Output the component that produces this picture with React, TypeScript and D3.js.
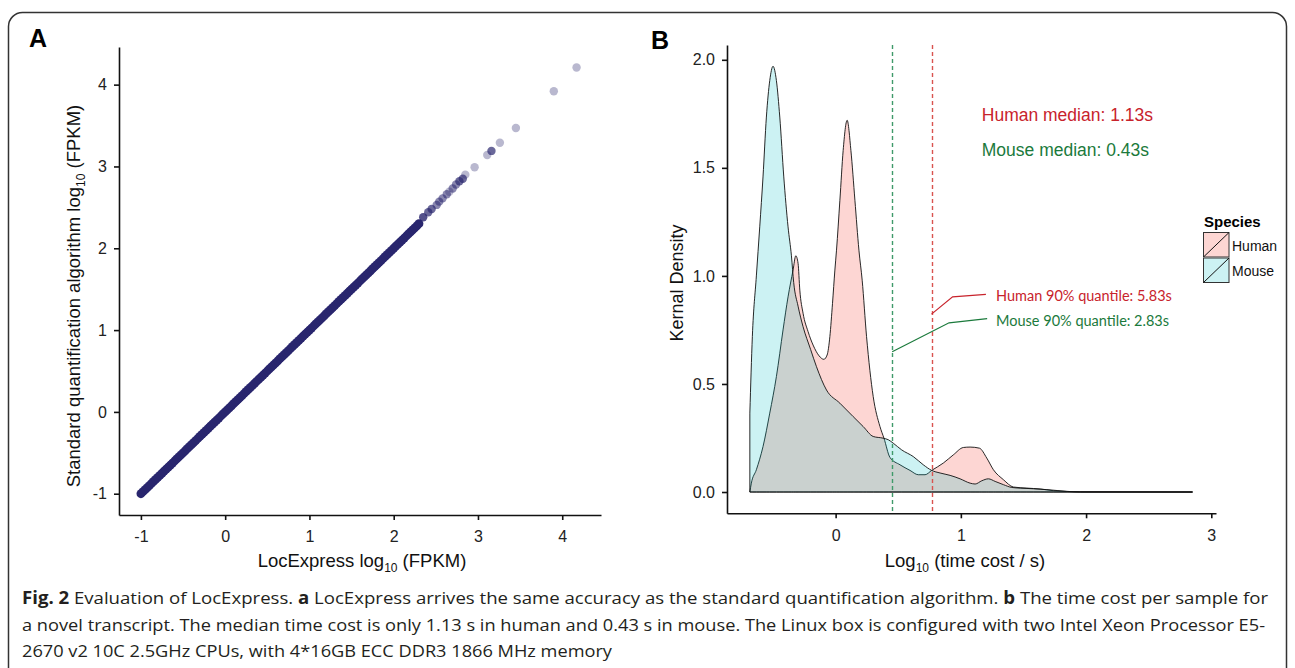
import React, { useEffect, useRef } from 'react';
import * as d3 from 'd3';

const W = 1295;
const H = 668;

// Panel A: LocExpress vs standard algorithm, log10 (FPKM).
// The bulk of transcripts sit on the diagonal (both methods agree).
const denseFpkm = [
  -1.0, -0.975, -0.95, -0.925, -0.9, -0.875, -0.85, -0.825, -0.8, -0.775, -0.75, -0.725, -0.7,
  -0.675, -0.65, -0.625, -0.6, -0.575, -0.55, -0.525, -0.5, -0.475, -0.45, -0.425, -0.4, -0.375,
  -0.35, -0.325, -0.3, -0.275, -0.25, -0.225, -0.2, -0.175, -0.15, -0.125, -0.1, -0.075, -0.05,
  -0.025, 0.0, 0.025, 0.05, 0.075, 0.1, 0.125, 0.15, 0.175, 0.2, 0.225, 0.25, 0.275, 0.3, 0.325,
  0.35, 0.375, 0.4, 0.425, 0.45, 0.475, 0.5, 0.525, 0.55, 0.575, 0.6, 0.625, 0.65, 0.675, 0.7,
  0.725, 0.75, 0.775, 0.8, 0.825, 0.85, 0.875, 0.9, 0.925, 0.95, 0.975, 1.0, 1.025, 1.05, 1.075,
  1.1, 1.125, 1.15, 1.175, 1.2, 1.225, 1.25, 1.275, 1.3, 1.325, 1.35, 1.375, 1.4, 1.425, 1.45,
  1.475, 1.5, 1.525, 1.55, 1.575, 1.6, 1.625, 1.65, 1.675, 1.7, 1.725, 1.75, 1.775, 1.8, 1.825,
  1.85, 1.875, 1.9, 1.925, 1.95, 1.975, 2.0, 2.025, 2.05, 2.075, 2.1, 2.125, 2.15, 2.175, 2.2,
  2.225, 2.25, 2.275, 2.3,
];
// sparse high-expression tail
const tailLocExpress = [2.35, 2.41, 2.45, 2.51, 2.54, 2.58, 2.63, 2.66, 2.7, 2.74, 2.78, 2.82, 2.85, 2.96, 3.11, 3.16, 3.26, 3.45, 3.9, 4.17];
const tailStandard = [2.38, 2.44, 2.48, 2.53, 2.57, 2.61, 2.66, 2.69, 2.73, 2.78, 2.82, 2.85, 2.9, 2.99, 3.14, 3.19, 3.29, 3.47, 3.92, 4.21];
const tailOverlap = [4, 3, 3, 2, 2, 2, 2, 1, 2, 2, 3, 3, 1, 1, 1, 3, 1, 1, 1, 1];

const ticksA = [-1, 0, 1, 2, 3, 4];

// Panel B: kernel density of log10(time cost / s)
const species = ['Human', 'Mouse'];
const humanLogTime = [
  -0.685, -0.673, -0.633, -0.58, -0.526, -0.473, -0.42, -0.38, -0.34, -0.318, -0.3, -0.286, -0.26,
  -0.22, -0.18, -0.132, -0.094, -0.068, -0.046, -0.025, -0.006, 0.007, 0.034, 0.06, 0.092, 0.122,
  0.154, 0.186, 0.212, 0.247, 0.3, 0.354, 0.386, 0.434, 0.514, 0.594, 0.66, 0.714, 0.767, 0.86,
  0.94, 1.02, 1.074, 1.148, 1.207, 1.26, 1.34, 1.42, 1.527, 1.634, 1.74, 1.95, 2.85,
];
const humanDensity = [
  0, 0.041, 0.103, 0.21, 0.365, 0.534, 0.75, 0.903, 1.027, 1.093, 1.058, 0.934, 0.827,
  0.742, 0.68, 0.63, 0.614, 0.634, 0.719, 0.873, 1.027, 1.119, 1.35, 1.58, 1.72, 1.58,
  1.35, 1.119, 0.98, 0.719, 0.442, 0.303, 0.249, 0.16, 0.126, 0.1, 0.08, 0.08, 0.1, 0.134,
  0.172, 0.206, 0.208, 0.203, 0.157, 0.103, 0.057, 0.023, 0.018, 0.014, 0.006, 0.001, 0,
];
const mouseLogTime = [
  -0.685, -0.665, -0.633, -0.606, -0.58, -0.553, -0.526, -0.5, -0.473, -0.446, -0.414, -0.38,
  -0.353, -0.335, -0.3, -0.26, -0.2, -0.153, -0.073, 0.034, 0.14, 0.22, 0.3, 0.38, 0.42, 0.46,
  0.527, 0.62, 0.7, 0.767, 0.834, 0.914, 0.994, 1.074, 1.114, 1.167, 1.22, 1.274, 1.34, 1.407,
  1.474, 1.58, 1.687, 1.85, 1.954, 2.85,
];
const mouseDensity = [
  0.365, 0.719, 1.0, 1.227, 1.458, 1.735, 1.904, 1.97, 1.904, 1.735, 1.458, 1.227,
  1.093, 0.97, 0.86, 0.765, 0.66, 0.58, 0.472, 0.411, 0.349, 0.303, 0.257, 0.249, 0.242, 0.226,
  0.195, 0.164, 0.126, 0.1, 0.088, 0.077, 0.061, 0.041, 0.037, 0.052, 0.061, 0.049, 0.034, 0.021,
  0.018, 0.015, 0.011, 0.003, 0, 0,
];
const medianSeconds = [1.13, 0.43];
const quantileSeconds = [5.83, 2.83];
const ticksBx = [0, 1, 2, 3];
const ticksBy = [0, 0.5, 1, 1.5, 2];

const captionLines = [
  [
    ['Fig. 2', true], [' Evaluation of LocExpress. ', false], ['a', true],
    [' LocExpress arrives the same accuracy as the standard quantification algorithm. ', false],
    ['b', true], [' The time cost per sample for', false],
  ],
  [['a novel transcript. The median time cost is only 1.13 s in human and 0.43 s in mouse. The Linux box is configured with two Intel Xeon Processor E5-', false]],
  [['2670 v2 10C 2.5GHz CPUs, with 4*16GB ECC DDR3 1866 MHz memory', false]],
];
const captionWidths = [1246, 1243, 590];

const FONT = "'Liberation Sans', Arial, Helvetica, sans-serif";
const fills = { Human: '#F8766D', Mouse: '#00BFC4' };
const fillAlpha = { Human: 0.3, Mouse: 0.2 };
const textColors = { Human: '#c8232c', Mouse: '#1b7a3c' };
const dashColors = { Human: '#d9534f', Mouse: '#3f9a6a' };

function App() {
  const svgRef = useRef(null);

  useEffect(() => {
    const svg = d3.select(svgRef.current);
    svg.selectAll('*').remove();

    // frame
    svg.append('rect')
      .attr('x', 8.5).attr('y', 12.5).attr('width', 1278).attr('height', 720)
      .attr('rx', 14).attr('fill', 'none').attr('stroke', '#333').attr('stroke-width', 1.5);

    // ---------- Panel A ----------
    const xA = d3.scaleLinear().domain([-1.26, 4.46]).range([119, 601]);
    const yA = d3.scaleLinear().domain([-1.26, 4.46]).range([515, 47]);

    const gA = svg.append('g');

    const opac = (n) => 1 - Math.pow(1 - 0.33, n);
    const dotColor = '#29266e';

    gA.selectAll('.dense')
      .data(denseFpkm)
      .enter()
      .append('circle')
      .attr('cx', (d) => xA(d))
      .attr('cy', (d) => yA(d))
      .attr('r', 4.4)
      .attr('fill', dotColor);

    gA.selectAll('.tail')
      .data(tailLocExpress)
      .enter()
      .append('circle')
      .attr('cx', (d) => xA(d))
      .attr('cy', (d, i) => yA(tailStandard[i]))
      .attr('r', 4.2)
      .attr('fill', dotColor)
      .attr('opacity', (d, i) => opac(tailOverlap[i]));

    const styleAxis = (g) => {
      g.select('.domain').attr('stroke', '#111').attr('stroke-width', 1.6);
      g.selectAll('.tick line').attr('stroke', '#111').attr('stroke-width', 1.6);
      g.selectAll('.tick text').attr('fill', '#222');
      g.attr('font-size', 16).attr('font-family', FONT);
    };
    const plain = (d) => String(d);

    gA.append('g')
      .attr('transform', `translate(0, 515)`)
      .call(d3.axisBottom(xA).tickValues(ticksA).tickSize(5).tickSizeOuter(0).tickPadding(11).tickFormat(plain))
      .call(styleAxis);

    gA.append('g')
      .attr('transform', `translate(119, 0)`)
      .call(d3.axisLeft(yA).tickValues(ticksA).tickSize(5).tickSizeOuter(0).tickPadding(7).tickFormat(plain))
      .call(styleAxis);

    const xTitleA = gA.append('text')
      .attr('x', 362).attr('y', 567)
      .attr('text-anchor', 'middle')
      .attr('font-family', FONT).attr('font-size', 18.5).attr('fill', '#111');
    xTitleA.append('tspan').text('LocExpress log');
    xTitleA.append('tspan').attr('font-size', 12).attr('dy', 5).text('10');
    xTitleA.append('tspan').attr('dy', -5).text(' (FPKM)');

    const yTitleA = gA.append('text')
      .attr('transform', 'translate(80, 296) rotate(-90)')
      .attr('text-anchor', 'middle')
      .attr('font-family', FONT).attr('font-size', 18.5).attr('fill', '#111');
    yTitleA.append('tspan').text('Standard quantification algorithm log');
    yTitleA.append('tspan').attr('font-size', 12).attr('dy', 5).text('10');
    yTitleA.append('tspan').attr('dy', -5).text(' (FPKM)');

    svg.append('text').attr('x', 29).attr('y', 47)
      .attr('font-family', FONT).attr('font-weight', 'bold').attr('font-size', 25).text('A');

    // ---------- Panel B ----------
    const xB = d3.scaleLinear().domain([-0.8675, 3.0375]).range([727, 1216]);
    const yB = d3.scaleLinear().domain([-0.0985, 2.0685]).range([513.3, 45]);
    const gB = svg.append('g');

    const area = d3.area()
      .x((d) => xB(d[0]))
      .y0(yB(0))
      .y1((d) => yB(d[1]))
      .curve(d3.curveMonotoneX);

    const series = {
      Human: humanLogTime.map((x, i) => [x, humanDensity[i]]),
      Mouse: mouseLogTime.map((x, i) => [x, mouseDensity[i]]),
    };

    species.forEach((s) => {
      gB.append('path')
        .attr('d', area(series[s]) + 'Z')
        .attr('fill', fills[s])
        .attr('fill-opacity', fillAlpha[s])
        .attr('stroke', '#111')
        .attr('stroke-width', 0.9)
        .attr('stroke-linejoin', 'round');
    });

    // 90% quantile dashed lines
    species.forEach((s, i) => {
      const q = Math.round(xB(Math.log10(quantileSeconds[i]))) + 0.5;
      gB.append('line')
        .attr('x1', q).attr('x2', q)
        .attr('y1', 45).attr('y2', 513)
        .attr('stroke', dashColors[s])
        .attr('stroke-width', 1.4)
        .attr('stroke-dasharray', '4,3');
    });

    // median labels
    const medianY = [1.716, 1.555];
    species.forEach((s, i) => {
      gB.append('text')
        .attr('x', xB(1.167)).attr('y', yB(medianY[i]))
        .attr('font-family', FONT).attr('font-size', 17.5)
        .attr('fill', textColors[s])
        .text(`${s} median: ${medianSeconds[i].toFixed(2)}s`);
    });

    // quantile leaders and labels
    const leaders = [
      [[Math.log10(quantileSeconds[0]), 0.823], [0.934, 0.903], [1.2, 0.915]],
      [[Math.log10(quantileSeconds[1]), 0.649], [0.906, 0.783], [1.21, 0.802]],
    ];
    const quantLabelY = [0.884, 0.769];
    species.forEach((s, i) => {
      gB.append('path')
        .attr('d', d3.line().x((d) => xB(d[0])).y((d) => yB(d[1]))(leaders[i]))
        .attr('fill', 'none')
        .attr('stroke', textColors[s])
        .attr('stroke-width', 1.2);
      gB.append('text')
        .attr('x', xB(1.281)).attr('y', yB(quantLabelY[i]))
        .attr('font-family', "Lato, 'Open Sans', sans-serif").attr('font-size', 14.5)
        .attr('fill', textColors[s])
        .text(`${s} 90% quantile: ${quantileSeconds[i].toFixed(2)}s`);
    });

    gB.append('g')
      .attr('transform', `translate(0, 513.3)`)
      .call(d3.axisBottom(xB).tickValues(ticksBx).tickSize(5).tickSizeOuter(0).tickPadding(11).tickFormat(plain))
      .call(styleAxis);

    gB.append('g')
      .attr('transform', `translate(727, 0)`)
      .call(d3.axisLeft(yB).tickValues(ticksBy).tickSize(5).tickSizeOuter(0).tickPadding(7).tickFormat(d3.format('.1f')))
      .call(styleAxis);

    const xTitleB = gB.append('text')
      .attr('x', 965).attr('y', 567)
      .attr('text-anchor', 'middle')
      .attr('font-family', FONT).attr('font-size', 18.5).attr('fill', '#111');
    xTitleB.append('tspan').text('Log');
    xTitleB.append('tspan').attr('font-size', 12).attr('dy', 5).text('10');
    xTitleB.append('tspan').attr('dy', -5).text(' (time cost / s)');

    gB.append('text')
      .attr('transform', 'translate(683, 283) rotate(-90)')
      .attr('text-anchor', 'middle')
      .attr('font-family', FONT).attr('font-size', 18).attr('fill', '#111')
      .text('Kernal Density');

    svg.append('text').attr('x', 651).attr('y', 49)
      .attr('font-family', FONT).attr('font-weight', 'bold').attr('font-size', 25).text('B');

    // legend
    const lg = svg.append('g').attr('transform', 'translate(1203, 0)');
    lg.append('text').attr('x', 1).attr('y', 226.5)
      .attr('font-family', FONT).attr('font-weight', 'bold').attr('font-size', 15).text('Species');
    species.forEach((s, i) => {
      const top = 232 + i * 25.5;
      lg.append('rect').attr('x', 0).attr('y', top).attr('width', 26.5).attr('height', 25.5)
        .attr('fill', 'white');
      lg.append('rect').attr('x', 0.5).attr('y', top + 0.5).attr('width', 25.5).attr('height', 24.5)
        .attr('fill', fills[s]).attr('fill-opacity', fillAlpha[s])
        .attr('stroke', '#333').attr('stroke-width', 1);
      lg.append('line')
        .attr('x1', 0.5).attr('y1', top + 25).attr('x2', 26).attr('y2', top + 0.5)
        .attr('stroke', '#111').attr('stroke-width', 1);
      lg.append('text').attr('x', 29).attr('y', top + 18.5)
        .attr('font-family', FONT).attr('font-size', 14).attr('fill', '#111').text(s);
    });

    // caption
    captionLines.forEach((parts, i) => {
      const t = svg.append('text')
        .attr('x', 22).attr('y', 604 + i * 26.7)
        .attr('font-family', "'Liberation Sans Narrow', 'Open Sans', sans-serif")
        .attr('font-size', 17).attr('fill', '#231f20')
        .attr('textLength', captionWidths[i])
        .attr('lengthAdjust', 'spacingAndGlyphs');
      parts.forEach(([txt, bold]) => {
        t.append('tspan').attr('font-weight', bold ? 'bold' : 'normal').text(txt);
      });
    });
  }, []);

  return (
    <svg
      ref={svgRef}
      width={W}
      height={H}
      style={{ position: 'absolute', left: 0, top: 0, background: 'white' }}
    />
  );
}

export default App;
